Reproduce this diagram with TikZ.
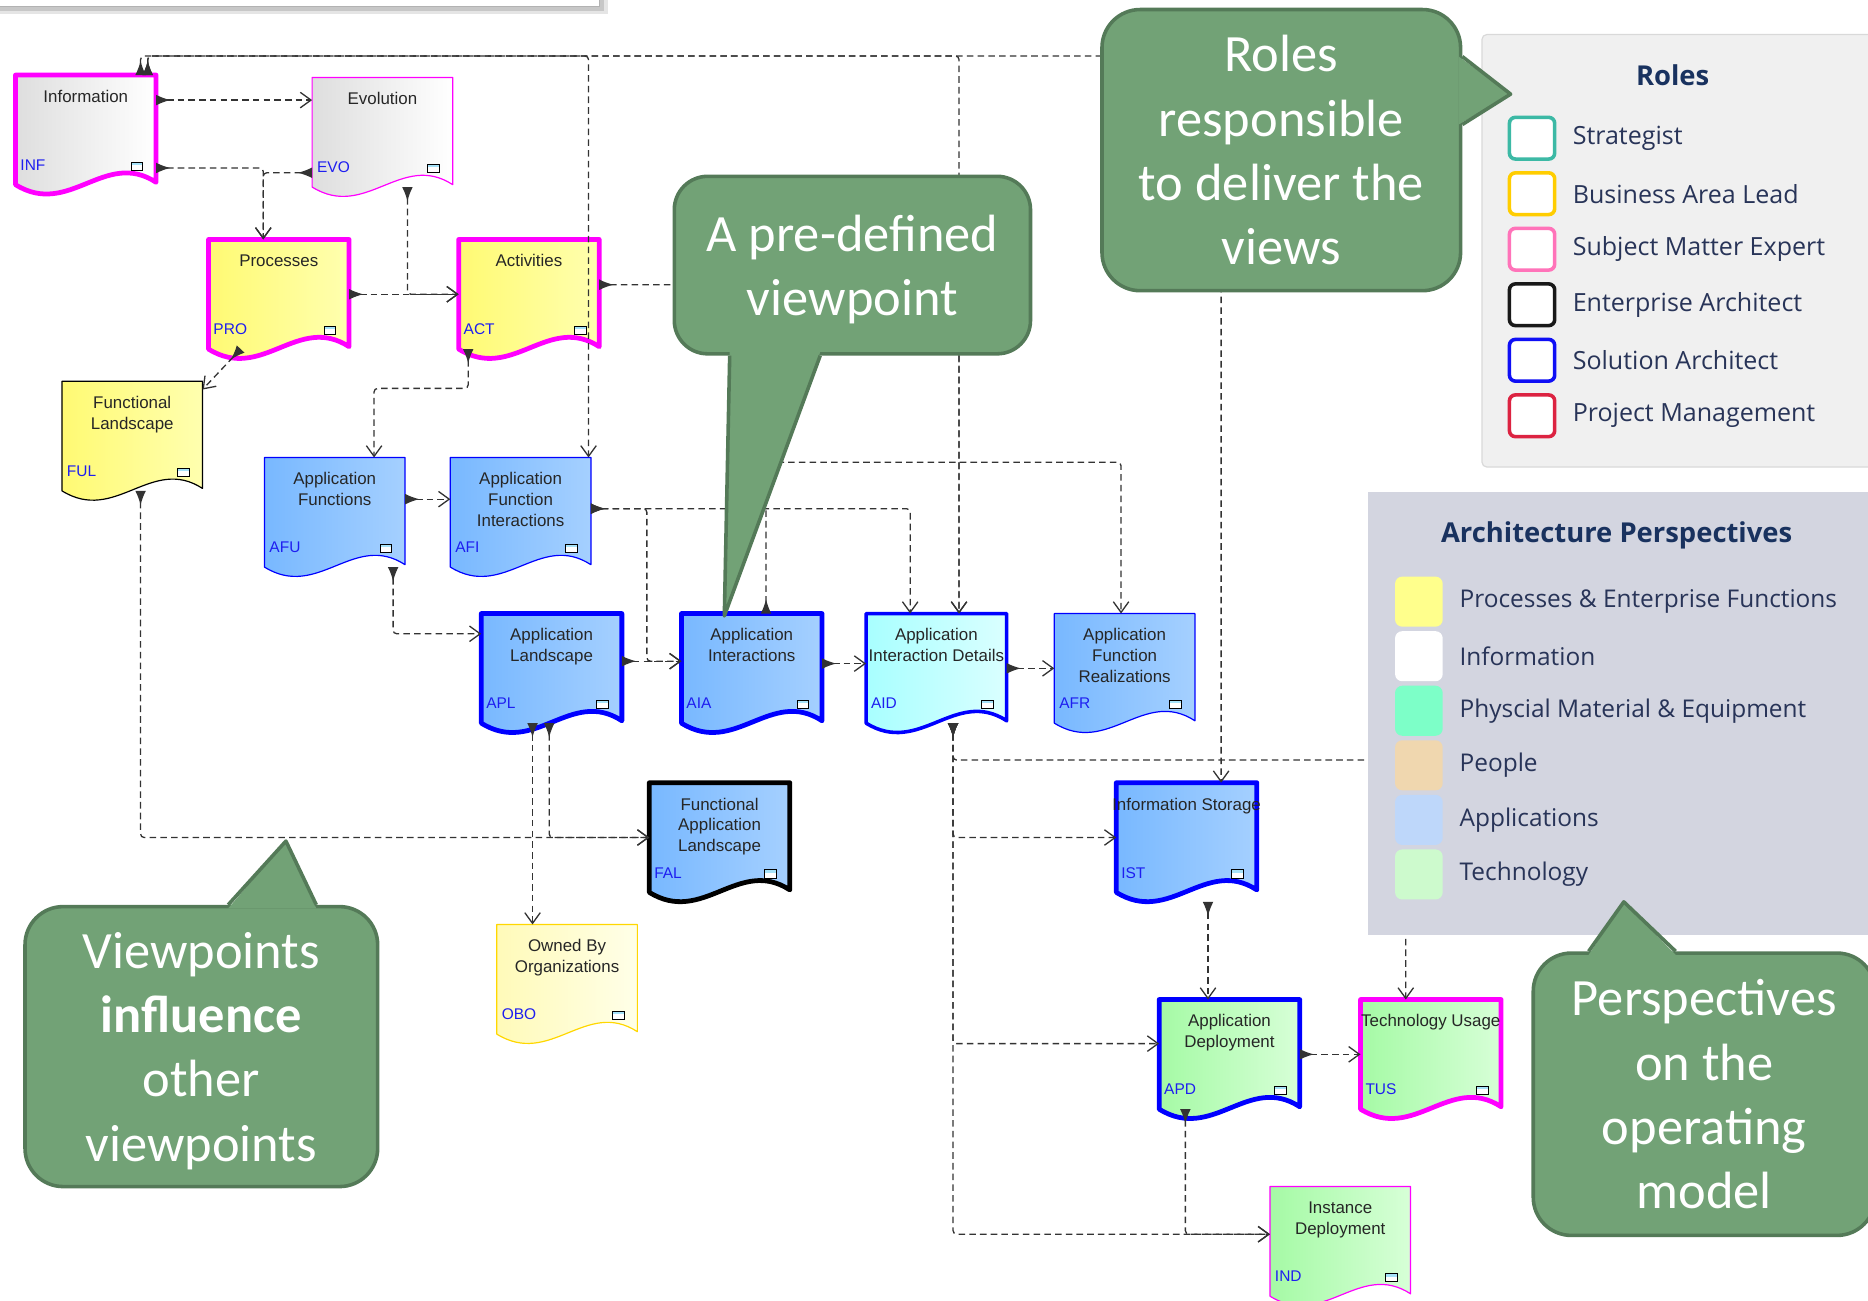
\documentclass[tikz,border=0pt]{standalone}
\usepackage{fontspec}
\setmainfont{Carlito}
\newfontfamily\eafont{Liberation Sans}
\newfontfamily\legendfont{Open Sans}
\usetikzlibrary{arrows.meta,calc}

\definecolor{callgreen}{RGB}{114,162,118}
\definecolor{calledge}{RGB}{84,122,88}
\definecolor{eamag}{RGB}{255,0,255}
\definecolor{eablue}{RGB}{0,0,255}
\definecolor{infoL}{RGB}{222,222,222}
\definecolor{yelL}{RGB}{255,250,115}
\definecolor{yelR}{RGB}{255,255,175}
\definecolor{oboL}{RGB}{255,250,185}
\definecolor{oboR}{RGB}{255,255,232}
\definecolor{appL}{RGB}{120,184,255}
\definecolor{appR}{RGB}{165,208,255}
\definecolor{aidL}{RGB}{168,255,255}
\definecolor{aidR}{RGB}{218,255,255}
\definecolor{techL}{RGB}{165,250,165}
\definecolor{techR}{RGB}{215,255,215}
\definecolor{codeblue}{RGB}{30,30,240}
\definecolor{gold}{RGB}{255,215,0}
\definecolor{navy}{RGB}{25,50,95}
\definecolor{legtext}{RGB}{40,52,88}
\definecolor{rolesbg}{RGB}{240,240,240}
\definecolor{archbg}{RGB}{211,213,224}
\definecolor{stratc}{RGB}{60,185,165}
\definecolor{balc}{RGB}{255,205,0}
\definecolor{smec}{RGB}{255,115,185}
\definecolor{eac}{RGB}{25,25,25}
\definecolor{sac}{RGB}{15,15,245}
\definecolor{pmc}{RGB}{220,35,65}
\definecolor{archyel}{RGB}{255,255,140}
\definecolor{archaqua}{RGB}{125,255,200}
\definecolor{archpeople}{RGB}{240,215,175}
\definecolor{archapp}{RGB}{190,215,250}
\definecolor{archtech}{RGB}{205,250,205}

% document element: style, name, top left corner, title, code
\newcommand{\eadoc}[5]{%
  \begin{scope}[shift={(#3)}]
    \path[docshape,#1] (0,0) -- (118,0) -- (118,90)
      .. controls (75,62) and (45,120) .. (0,92) -- cycle;
    \node[docbox] (#2) at (59,46) {};
    \node[doctitle] at (59,12.5) {#4};
    \node[doccode] at (4,80) {#5};
    \fill[white] (97,73) rectangle (107,80);
    \fill[cyan!35] (97,73) rectangle (107,75.5);
    \draw[line width=0.8pt] (97,73) rectangle (107,80);
  \end{scope}}

\begin{document}
\begin{tikzpicture}[x=1pt, y=-1pt,
  docshape/.style={line join=round},
  docbox/.style={minimum width=118pt, minimum height=92pt, inner sep=0pt, outer sep=0pt},
  doctitle/.style={anchor=north, align=center, inner sep=0pt, text=black!85,
    font=\eafont\fontsize{14.2}{17.5}\selectfont},
  doccode/.style={anchor=base west, inner sep=0pt, text=codeblue,
    font=\eafont\fontsize{13}{15}\selectfont},
  heavy/.style={line width=4pt},
  light/.style={line width=1pt},
  infofill/.style={left color=infoL, right color=white},
  procfill/.style={left color=yelL, right color=yelR},
  appfill/.style={left color=appL, right color=appR},
  techfill/.style={left color=techL, right color=techR},
  link/.style={draw=black!80, line width=1.1pt, dash pattern=on 5.5pt off 3.5pt,
    rounded corners=3pt,
    {Latex[reversed,length=12pt,width=9pt]}-{Straight Barb[length=9pt,width=13pt]}},
  callout/.style={fill=callgreen, draw=calledge, line width=3pt, rounded corners=32pt,
    text=white, align=center, text depth=0pt, font=\fontsize{44}{54}\selectfont},
  calltip/.style={draw=calledge, line width=3pt, line join=round},
  legtitle/.style={inner sep=0pt, text=navy, font=\legendfont\bfseries\fontsize{23}{28}\selectfont},
  legitem/.style={anchor=west, inner sep=0pt, text=legtext, font=\legendfont\fontsize{21}{25}\selectfont},
  rolekey/.style={minimum width=38pt, minimum height=35pt, inner sep=0pt, fill=white,
    line width=3pt, rounded corners=5pt},
  archkey/.style={minimum width=40pt, minimum height=42pt, inner sep=0pt, rounded corners=6pt}]

\useasboundingbox (0,0) rectangle (1568,1092);

\fill[black!10] (0,-20) rectangle (510,12);
\fill[black!22] (0,-20) rectangle (507,9);
\filldraw[fill=white, draw=black!30] (-5,-20) rectangle (503,5);

\eadoc{infofill, draw=eamag, heavy}{inf}{13,63}{Information}{INF}
\eadoc{infofill, draw=eamag, light}{evo}{262,65}{Evolution}{EVO}
\eadoc{procfill, draw=eamag, heavy}{pro}{175,201}{Processes}{PRO}
\eadoc{procfill, draw=eamag, heavy}{act}{385,201}{Activities}{ACT}
\eadoc{procfill, draw=black, light}{ful}{52,320}{Functional\\Landscape}{FUL}
\eadoc{appfill, draw=eablue, light}{afu}{222,384}{Application\\Functions}{AFU}
\eadoc{appfill, draw=eablue, light}{afi}{378,384}{Application\\Function\\Interactions}{AFI}
\eadoc{appfill, draw=eablue, heavy}{apl}{404,515}{Application\\Landscape}{APL}
\eadoc{appfill, draw=eablue, heavy}{aia}{572,515}{Application\\Interactions}{AIA}
\eadoc{left color=aidL, right color=aidR, draw=eablue, line width=3pt}{aid}{727,515}{Application\\Interaction Details}{AID}
\eadoc{appfill, draw=eablue, light}{afr}{885,515}{Application\\Function\\Realizations}{AFR}
\eadoc{appfill, draw=black, heavy}{fal}{545,657}{Functional\\Application\\Landscape}{FAL}
\eadoc{appfill, draw=eablue, heavy}{ist}{937,657}{Information Storage}{IST}
\eadoc{left color=oboL, right color=oboR, draw=gold, light}{obo}{417,776}{Owned By\\Organizations}{OBO}
\eadoc{techfill, draw=eablue, heavy}{apd}{973,839}{Application\\Deployment}{APD}
\eadoc{techfill, draw=eamag, heavy}{tus}{1142,839}{Technology Usage}{TUS}
\eadoc{techfill, draw=eamag, light}{ind}{1066,996}{Instance\\Deployment}{IND}

\draw[link] ($(inf.north east)+(0,21)$) -- ($(evo.north west)+(0,19)$);
\draw[link] ($(inf.north east)+(0,78)$) -| ($(pro.north west)+(46,0)$);
\draw[link] ($(evo.north west)+(0,80)$) -| ($(pro.north west)+(46,0)$);
\draw[link] (pro.east) -- (act.west);
\draw[link] ($(evo.south west)+(80,0)$) |- (act.west);
\draw[link] ($(pro.south west)+(27,0)$) -- ($(ful.north east)+(0,7)$);
\draw[link] ($(act.south west)+(8,0)$) -- ($(act.south west)+(8,33)$) -| ($(afu.north west)+(92,0)$);
\draw[link] ($(act.north east)+(0,38)$) -| ($(aid.north west)+(78,0)$);
\draw[link] ($(inf.north west)+(105,0)$) -- ($(inf.north west)+(105,-16)$) -| ($(afi.north west)+(116,0)$);
\draw[link] ($(inf.north west)+(111,0)$) -- ($(inf.north west)+(111,-16)$) -| ($(aid.north west)+(78,0)$);
\draw[link] ($(inf.north west)+(111,0)$) -- ($(inf.north west)+(111,-16)$) -| ($(ist.north west)+(88,0)$);
\draw[link] ($(afu.north east)+(0,35)$) -- ($(afi.north west)+(0,35)$);
\draw[link] ($(afu.south west)+(108,0)$) |- ($(apl.north west)+(0,17)$);
\draw[link] ($(ful.south west)+(66,0)$) |- (fal.west);
\draw[link] ($(apl.south west)+(43,0)$) -- ($(obo.north west)+(30,0)$);
\draw[link] ($(apl.south west)+(57,0)$) |- (fal.west);
\draw[link] ($(apl.north east)+(0,40)$) -- ($(aia.north west)+(0,40)$);
\draw[link] ($(afi.north east)+(0,43)$) -| ($(aia.north west)+(-29,40)$) -- ($(aia.north west)+(0,40)$);
\draw[link] ($(afi.north east)+(0,43)$) -| ($(aid.north west)+(37,0)$);
\draw[link] ($(aia.north west)+(71,0)$) -- ($(aia.north west)+(71,-127)$) -| ($(afr.north west)+(56,0)$);
\draw[link] ($(aia.north east)+(0,42)$) -- ($(aid.north west)+(0,42)$);
\draw[link] (aid.east) -- (afr.west);
\draw[link] ($(aid.south west)+(73,0)$) |- (ist.west);
\draw[link] ($(aid.south west)+(73,0)$) |- ($(apd.north west)+(0,37)$);
\draw[link] ($(aid.south west)+(73,0)$) |- ($(ind.north west)+(0,40)$);
\draw[link] ($(aid.south west)+(73,0)$) -- ($(aid.south west)+(73,31)$) -| ($(tus.north west)+(38,0)$);
\draw[link] ($(ist.south west)+(77,8)$) -- ($(apd.north west)+(41,0)$);
\draw[link] (apd.east) -- (tus.west);
\draw[link] ($(apd.south west)+(22,0)$) |- ($(ind.north west)+(0,40)$);

% legends
\node[fill=rolesbg, draw=black!15, line width=1pt, rounded corners=4pt, inner sep=0pt,
  minimum width=331pt, minimum height=363pt] (rolesbox) at (1409.5,210.5) {};
\node[legtitle] (rolestitle) at (1404,63) {Roles};
\foreach \c/\t [count=\i] in {stratc/Strategist, balc/Business Area Lead,
    smec/Subject Matter Expert, eac/Enterprise Architect, sac/Solution Architect,
    pmc/Project Management}{
  \node[rolekey, draw=\c] (rk\i) at (1286,{69.4+46.6*\i}) {};
  \node[legitem] (rt\i) at (1320,{69.4+46.6*\i}) {\t};
}

\node[fill=archbg, inner sep=0pt, minimum width=427pt, minimum height=372pt] (archbox) at (1361.5,599) {};
\node[legtitle] (archtitle) at (1357,449) {Architecture Perspectives};
\foreach \c/\t [count=\i] in {archyel/Processes \& Enterprise Functions, white/Information,
    archaqua/Physcial Material \& Equipment, archpeople/People, archapp/Applications,
    archtech/Technology}{
  \node[archkey, fill=\c] (ak\i) at (1191,{459.2+45.8*\i}) {};
  \node[legitem, font=\legendfont\fontsize{20.5}{25}\selectfont] (ap\i) at (1225,{459.2+45.8*\i}) {\t};
}

% callouts
\node[callout, minimum width=301pt, minimum height=236pt] (rolesnote) at (1075.5,126)
  {Roles\\responsible\\to deliver the\\views};
\coordinate (rolestip) at (1268,79);
\fill[callgreen] ($(rolesnote.north east)+(-3,41)$) -- (rolestip) -- ($(rolesnote.north east)+(-3,98)$) -- cycle;
\draw[calltip] ($(rolesnote.north east)+(0,41)$) -- (rolestip) -- ($(rolesnote.north east)+(0,98)$);

\node[callout, minimum width=299pt, minimum height=149pt, rounded corners=28pt] (viewnote) at (715.5,222.5)
  {A pre-defined\\viewpoint};
\coordinate (viewtip) at (608,517);
\fill[callgreen] ($(viewnote.south west)+(48,-3)$) -- (viewtip) -- ($(viewnote.south west)+(124,-3)$) -- cycle;
\draw[calltip] ($(viewnote.south west)+(48,0)$) -- (viewtip) -- ($(viewnote.south west)+(124,0)$);

\node[callout, minimum width=296pt, minimum height=235pt] (influencenote) at (169,878.5)
  {Viewpoints\\\textbf{influence}\\other\\viewpoints};
\coordinate (influencetip) at (240,706);
\fill[callgreen] ($(influencenote.north west)+(172,3)$) -- (influencetip) -- ($(influencenote.north west)+(246,3)$) -- cycle;
\draw[calltip] ($(influencenote.north west)+(172,0)$) -- (influencetip) -- ($(influencenote.north west)+(246,0)$);

\node[callout, minimum width=287pt, minimum height=237pt] (perspnote) at (1430.5,918.5)
  {Perspectives\\on the\\operating\\model};
\coordinate (persptip) at (1363,757);
\fill[callgreen] ($(perspnote.north west)+(48,3)$) -- (persptip) -- ($(perspnote.north west)+(121,3)$) -- cycle;
\draw[calltip] ($(perspnote.north west)+(48,0)$) -- (persptip) -- ($(perspnote.north west)+(121,0)$);

\end{tikzpicture}
\end{document}
